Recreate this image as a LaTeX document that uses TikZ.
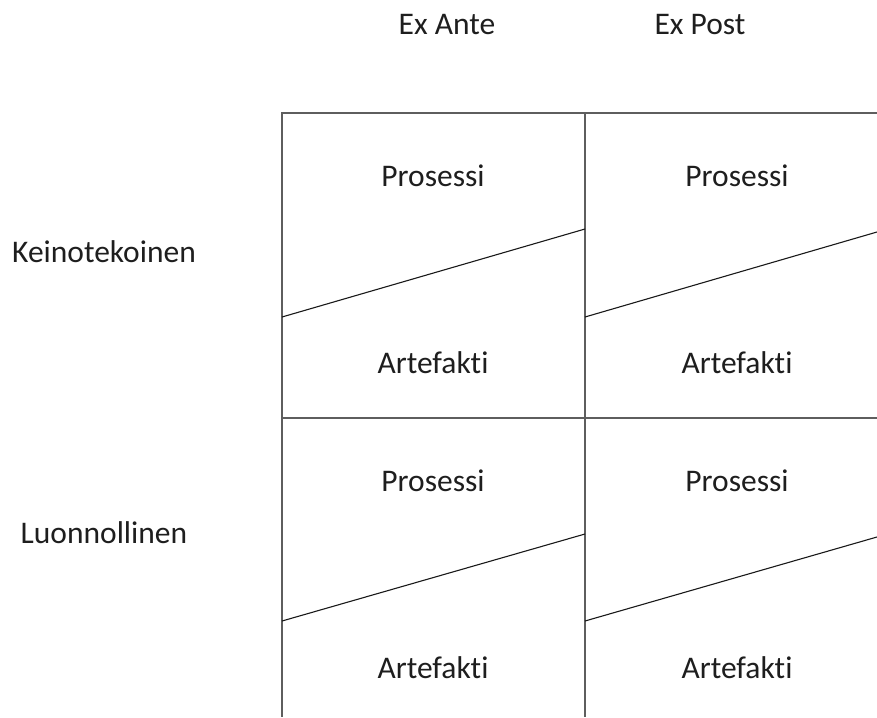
\documentclass[tikz,border=0pt]{standalone}
\usepackage{fontspec}
\setmainfont[Ligatures=NoCommon]{Carlito}
\definecolor{GridGray}{HTML}{5E5E5E}
\definecolor{LabelText}{HTML}{1E1E1E}

\begin{document}
\begin{tikzpicture}[
  x=1pt,y=-1pt,
  gridline/.style={
    line width=2.3pt,
    draw=GridGray
  },
  splitline/.style={
    line width=1.1pt,
    draw=black!90
  },
  celltext/.style={
    anchor=base,
    inner sep=0pt,
    font=\fontsize{31.5}{38}\selectfont,
    text=LabelText
  },
  headtext/.style={
    celltext
  },
  rowtext/.style={
    celltext
  }
]
\useasboundingbox (0,0) rectangle (877,717);

% -------------------------------------------------
% Column headers
% -------------------------------------------------
\node[headtext] (exante) at (447,35) {Ex Ante};
\node[headtext] (expost) at (700,35) {Ex Post};

% -------------------------------------------------
% Row labels
% -------------------------------------------------
\node[rowtext] (keino)  at (104,262) {Keinotekoinen};
\node[rowtext] (luonno) at (104,543) {Luonnollinen};

% -------------------------------------------------
% Grid
% -------------------------------------------------
\coordinate (topl)  at (282,113);
\coordinate (topm)  at (585,113);
\coordinate (topr)  at (877,113);
\coordinate (midl)  at (282,418);
\coordinate (midr)  at (877,418);
\coordinate (botl)  at (282,717);
\coordinate (botm)  at (585,717);

\draw[gridline] (topr) -- (topl) -- (botl);
\draw[gridline] (topm) -- (botm);
\draw[gridline] (midl) -- (midr);

% split lines inside the cells
\draw[splitline] (282,317) -- (585,229);
\draw[splitline] (585,317) -- (877,232);
\draw[splitline] (282,621) -- (585,534);
\draw[splitline] (585,621) -- (877,537);

% -------------------------------------------------
% Cell texts
% -------------------------------------------------
\node[celltext] (prosA1) at (433,186) {Prosessi};
\node[celltext] (artA1)  at (433,373) {Artefakti};
\node[celltext] (prosP1) at (737,186) {Prosessi};
\node[celltext] (artP1)  at (737,373) {Artefakti};

\node[celltext] (prosA2) at (433,491) {Prosessi};
\node[celltext] (artA2)  at (433,678) {Artefakti};
\node[celltext] (prosP2) at (737,491) {Prosessi};
\node[celltext] (artP2)  at (737,678) {Artefakti};

\end{tikzpicture}
\end{document}
